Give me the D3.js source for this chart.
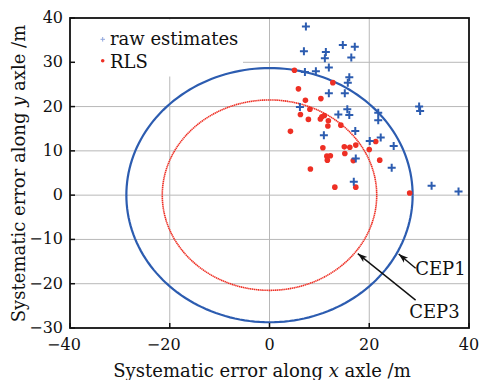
<!DOCTYPE html>
<meta charset="utf-8" />
<title>CEP scatter</title>
<style>
  body { margin: 0; background: #fff; }
  text { font-family: "DejaVu Serif", serif; fill: #111; }
  .grid line { stroke: #b8b8b8; stroke-width: 1px; }
</style>
<body>
<svg width="480" height="380"></svg>
<script src="https://d3js.org/d3.v7.min.js"></script>
<script>
// raw estimates (blue +), metres
const rawX = [7.3, 6.9, 14.7, 17.1, 11.3, 11.1, 16.4, 11.9, 7.1, 9.3, 16.0, 15.7, 11.9, 15.1, 6.1, 15.6,
              16.0, 13.8, 21.8, 21.8, 30.0, 30.2, 17.2, 10.9, 20.1, 22.3, 24.9, 17.3, 24.5, 16.9, 32.5, 37.9];
const rawY = [38.1, 32.5, 33.9, 33.5, 32.3, 30.9, 31.1, 28.8, 27.8, 28.0, 26.6, 25.4, 23.0, 23.0, 19.9, 19.4,
              18.1, 18.2, 18.6, 16.9, 20.0, 19.0, 14.5, 13.5, 12.2, 13.0, 11.1, 8.3, 6.2, 3.0, 2.1, 0.8];
// RLS estimates (red dots)
const rlsX = [5.0, 5.8, 12.7, 10.3, 7.2, 8.1, 6.2, 7.8, 10.2, 10.5, 11.0, 11.8, 11.7, 14.3, 4.2, 10.7,
              15.0, 16.1, 17.3, 15.1, 11.5, 12.2, 11.6, 16.8, 20.0, 21.3, 22.1, 8.2, 13.1, 17.3, 28.1];
const rlsY = [28.2, 24.0, 25.4, 21.8, 21.4, 19.4, 18.2, 17.1, 17.2, 17.7, 18.0, 16.8, 15.6, 15.8, 14.4, 10.7,
              10.9, 10.8, 11.3, 9.4, 8.8, 8.9, 7.9, 7.8, 10.3, 12.1, 7.9, 5.9, 1.8, 1.8, 0.5];
// circular error probable radii
const cepNames = ["CEP1", "CEP3"];
const cepRadius = [28.7, 21.5];
// annotation: arrow tip, arrow tail, text position (data units)
const noteTip = [[25.9, -13.3], [17.7, -13.2]];
const noteTail = [[29.3, -16.5], [29.3, -23.7]];
const noteText = [[29.2, -18.1], [28.0, -27.8]];

const xTicks = [-40, -20, 0, 20, 40];
const yTicks = [-30, -20, -10, 0, 10, 20, 30, 40];
const legendLabels = ["raw estimates", "RLS"];

const blue = "#2c5cb0", red = "#ee2f24";

const svg = d3.select("svg");
const x = d3.scaleLinear().domain([-40, 40]).range([70, 469]);
const y = d3.scaleLinear().domain([-30, 40]).range([328, 18]);

const fmt = d => d < 0 ? "\u2212" + Math.abs(d) : String(d);

// grid
const grid = svg.append("g").attr("class", "grid");
grid.selectAll(".gx").data(xTicks.slice(1, -1)).join("line")
  .attr("x1", d => x(d)).attr("x2", d => x(d)).attr("y1", y(40)).attr("y2", y(-30));
grid.selectAll(".gy").data(yTicks.slice(1, -1)).join("line")
  .attr("x1", x(-40)).attr("x2", x(40)).attr("y1", d => y(d)).attr("y2", d => y(d));

// legend background hides the grid only
svg.append("rect").attr("x", 71).attr("y", 19.5).attr("width", 172).attr("height", 57).attr("fill", "#fff");

// CEP circles
const lineGen = d3.line().x(d => x(d[0])).y(d => y(d[1]));
function circlePts(r) {
  return d3.range(0, 361, 2).map(a => [r * Math.cos(a * Math.PI / 180), r * Math.sin(a * Math.PI / 180)]);
}
svg.append("path").attr("d", lineGen(circlePts(cepRadius[0])))
  .attr("fill", "none").attr("stroke", blue).attr("stroke-width", 2.2);
svg.append("path").attr("d", lineGen(circlePts(cepRadius[1])))
  .attr("fill", "none").attr("stroke", red).attr("stroke-width", 1.6)
  .attr("stroke-dasharray", "1.4,0.5");

// RLS points
svg.append("g").selectAll("circle").data(rlsX.map((v, i) => [v, rlsY[i]])).join("circle")
  .attr("cx", d => x(d[0])).attr("cy", d => y(d[1])).attr("r", 2.8).attr("fill", red);

// raw points as +
svg.append("g").selectAll("path").data(rawX.map((v, i) => [v, rawY[i]])).join("path")
  .attr("d", d => `M${x(d[0]) - 4},${y(d[1])}h8M${x(d[0])},${y(d[1]) - 4}v8`)
  .attr("stroke", blue).attr("stroke-width", 2).attr("fill", "none");

// legend entries
svg.append("path").attr("d", "M100.5,39.3h4.5M102.7,37v4.6")
  .attr("stroke", "#8fa6dd").attr("stroke-width", 1);
svg.append("circle").attr("cx", 102.7).attr("cy", 60.7).attr("r", 1.8).attr("fill", red);
svg.append("text").attr("x", 110).attr("y", 45).attr("font-size", 18).text(legendLabels[0]);
svg.append("text").attr("x", 110).attr("y", 68).attr("font-size", 18).text(legendLabels[1]);

// annotations
svg.append("defs").append("marker")
  .attr("id", "ah").attr("viewBox", "0 -5 12 10").attr("refX", 12).attr("refY", 0)
  .attr("markerWidth", 10).attr("markerHeight", 8).attr("markerUnits", "userSpaceOnUse")
  .attr("orient", "auto")
  .append("path").attr("d", "M0,-4L12,0L0,4L3,0Z").attr("fill", "#111");
cepNames.forEach((n, i) => {
  svg.append("line")
    .attr("x1", x(noteTail[i][0])).attr("y1", y(noteTail[i][1]))
    .attr("x2", x(noteTip[i][0])).attr("y2", y(noteTip[i][1]))
    .attr("stroke", "#111").attr("stroke-width", 1.4).attr("marker-end", "url(#ah)");
  svg.append("text").attr("x", x(noteText[i][0])).attr("y", y(noteText[i][1]))
    .attr("font-size", 18).text(n);
});

// axes box
svg.append("rect").attr("x", x(-40)).attr("y", y(40)).attr("width", x(40) - x(-40))
  .attr("height", y(-30) - y(40)).attr("fill", "none").attr("stroke", "#111").attr("stroke-width", 1.8);

// ticks inward
svg.append("g").selectAll("line").data(xTicks).join("line")
  .attr("x1", d => x(d)).attr("x2", d => x(d)).attr("y1", y(-30)).attr("y2", y(-30) - 5)
  .attr("stroke", "#111").attr("stroke-width", 1.5);
svg.append("g").selectAll("line").data(yTicks).join("line")
  .attr("x1", x(-40)).attr("x2", x(-40) + 5).attr("y1", d => y(d)).attr("y2", d => y(d))
  .attr("stroke", "#111").attr("stroke-width", 1.5);

// tick labels
svg.append("g").selectAll("text").data(xTicks).join("text")
  .attr("x", d => x(d) + (d < 0 ? -6 : 0)).attr("y", 350).attr("text-anchor", "middle")
  .attr("font-size", 16).text(fmt);
svg.append("g").selectAll("text").data(yTicks).join("text")
  .attr("x", 63).attr("y", d => y(d) + 5).attr("text-anchor", "end")
  .attr("font-size", 16).text(fmt);

// axis titles
const xt = svg.append("text").attr("x", 262).attr("y", 376.5).attr("text-anchor", "middle").attr("font-size", 18);
xt.append("tspan").text("Systematic error along ");
xt.append("tspan").attr("font-style", "italic").text("x");
xt.append("tspan").text(" axle /m");
const yt = svg.append("text").attr("transform", "translate(25,173.5) rotate(-90)")
  .attr("text-anchor", "middle").attr("font-size", 18);
yt.append("tspan").text("Systematic error along ");
yt.append("tspan").attr("font-style", "italic").text("y");
yt.append("tspan").text(" axle /m");
</script>
</body>
